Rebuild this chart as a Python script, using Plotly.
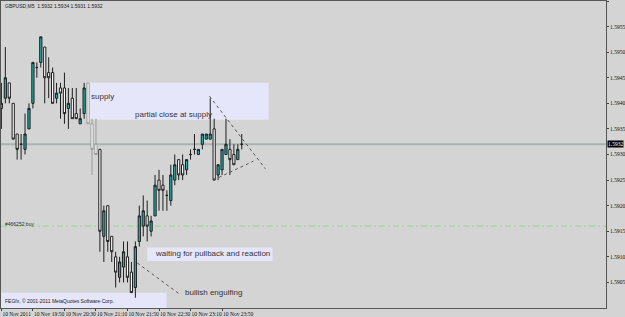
import plotly.graph_objects as go

# ---------------- data ----------------
bar_index = list(range(62))
opens = [1.5939, 1.5941, 1.5944, 1.5940, 1.5934, 1.5932, 1.5931, 1.5935, 1.5940, 1.5947,
         1.5948, 1.5951, 1.5946, 1.5946, 1.5941, 1.5943, 1.5943, 1.5939, 1.5941, 1.5938,
         1.5936, 1.5938, 1.5944, 1.5936, 1.5932, 1.5931, 1.5914, 1.5920, 1.5914, 1.5910,
         1.5906, 1.5908, 1.5910, 1.5907, 1.5904, 1.5913, 1.5916, 1.5918, 1.5915, 1.5918,
         1.5925, 1.5924, 1.5922, 1.5921, 1.5925, 1.5929, 1.5928, 1.5927, 1.5930, 1.5931,
         1.5930, 1.5932, 1.5933, 1.5933, 1.5935, 1.5926, 1.5927, 1.5930, 1.5931, 1.5930,
         1.5929, 1.5932]
highs = [1.5944, 1.5951, 1.5944, 1.5940, 1.5934, 1.5934, 1.5938, 1.5940, 1.5948, 1.5948,
         1.5953, 1.5951, 1.5949, 1.5947, 1.5944, 1.5944, 1.5946, 1.5943, 1.5943, 1.5943,
         1.5939, 1.5944, 1.5944, 1.5937, 1.5937, 1.5931, 1.5920, 1.5920, 1.5914, 1.5911,
         1.5910, 1.5913, 1.5913, 1.5909, 1.5913, 1.5920, 1.5922, 1.5921, 1.5918, 1.5926,
         1.5927, 1.5926, 1.5923, 1.5928, 1.5930, 1.5929, 1.5930, 1.5929, 1.5931, 1.5934,
         1.5931, 1.5934, 1.5934, 1.5941, 1.5937, 1.5928, 1.5931, 1.5937, 1.5933, 1.5932,
         1.5932, 1.5934]
lows = [1.5935, 1.5940, 1.5940, 1.5933, 1.5929, 1.5929, 1.5930, 1.5935, 1.5939, 1.5945,
        1.5947, 1.5940, 1.5941, 1.5940, 1.5940, 1.5937, 1.5936, 1.5935, 1.5937, 1.5937,
        1.5936, 1.5937, 1.5936, 1.5926, 1.5930, 1.5911, 1.5909, 1.5911, 1.5909, 1.5904,
        1.5905, 1.5905, 1.5905, 1.5903, 1.5902, 1.5912, 1.5914, 1.5913, 1.5914, 1.5918,
        1.5919, 1.5919, 1.5919, 1.5920, 1.5924, 1.5925, 1.5925, 1.5926, 1.5929, 1.5930,
        1.5930, 1.5931, 1.5933, 1.5933, 1.5925, 1.5925, 1.5926, 1.5930, 1.5926, 1.5928,
        1.5929, 1.5931]
closes = [1.5940, 1.5945, 1.5941, 1.5933, 1.5931, 1.5932, 1.5934, 1.5939, 1.5948, 1.5947,
          1.5953, 1.5945, 1.5945, 1.5940, 1.5942, 1.5942, 1.5938, 1.5940, 1.5937, 1.5937,
          1.5937, 1.5943, 1.5936, 1.5931, 1.5930, 1.5915, 1.5919, 1.5913, 1.5911, 1.5907,
          1.5909, 1.5911, 1.5906, 1.5903, 1.5912, 1.5918, 1.5919, 1.5916, 1.5917, 1.5924,
          1.5923, 1.5923, 1.5922, 1.5926, 1.5928, 1.5926, 1.5926, 1.5929, 1.5930, 1.5931,
          1.5931, 1.5934, 1.5934, 1.5934, 1.5925, 1.5928, 1.5931, 1.5932, 1.5929, 1.5928,
          1.5931, 1.5932]
gray_bars = [22, 23, 24]

x_tick_bars = [0, 8, 16, 24, 32, 40, 48, 56]
x_tick_labels = ["10 Nov 2011", "10 Nov 19:50", "10 Nov 20:30", "10 Nov 21:10",
                 "10 Nov 21:50", "10 Nov 22:30", "10 Nov 23:10", "10 Nov 23:50"]
y_ticks = [1.5905, 1.5910, 1.5915, 1.5920, 1.5925, 1.5930, 1.5935, 1.5940,
           1.5945, 1.5950, 1.5955, 1.5960]

bid_price = 1.5932
buy_price = 1.5916
title_text = "GBPUSD,M5  1.5932 1.5934 1.5931 1.5932"

# rectangles (bar / price corners)
rect_x0 = [21.9, 37.0, -1.0]
rect_x1 = [67.8, 68.8, 41.9]
rect_y0 = [1.59368, 1.59092, 1.5900]
rect_y1 = [1.5944, 1.59118, 1.59030]

# free texts
text_labels = ["supply", "partial close at supply", "waiting for pullback and reaction",
               "bullish engulfing"]
text_bar = [22.2, 33.4, 38.5, 46.1]
text_price = [1.59413, 1.59379, 1.59106, 1.59030]
copyright_text = "FEGfx, © 2001-2011 MetaQuotes Software Corp."

# dotted trend lines
trend_x0 = [34.5, 52.8, 53.8]
trend_y0 = [1.59088, 1.59414, 1.59250]
trend_x1 = [45.4, 67.0, 63.96]
trend_y1 = [1.59026, 1.59272, 1.59287]

# ---------------- figure ----------------
BG = "#d4d4d4"
BULL = "#20b2aa"
WICK = "#1e1e1e"

normal = [i for i in bar_index if i not in gray_bars]


def sub(arr, ids):
    return [arr[i] for i in ids]


fig = go.Figure()
fig.add_trace(go.Candlestick(
    x=sub(bar_index, normal), open=sub(opens, normal), high=sub(highs, normal),
    low=sub(lows, normal), close=sub(closes, normal),
    increasing=dict(line=dict(color=WICK, width=1), fillcolor=BULL),
    decreasing=dict(line=dict(color=WICK, width=1), fillcolor="white"),
    hoverinfo="skip", showlegend=False))
fig.add_trace(go.Candlestick(
    x=sub(bar_index, gray_bars), open=sub(opens, gray_bars), high=sub(highs, gray_bars),
    low=sub(lows, gray_bars), close=sub(closes, gray_bars),
    increasing=dict(line=dict(color="#9a9a9a", width=1), fillcolor=BULL),
    decreasing=dict(line=dict(color="#9a9a9a", width=1), fillcolor="white"),
    hoverinfo="skip", showlegend=False))

shapes = []
for x0, x1, y0, y1 in zip(rect_x0, rect_x1, rect_y0, rect_y1):
    shapes.append(dict(type="rect", xref="x", yref="y", x0=x0, x1=x1, y0=y0, y1=y1,
                       fillcolor="#e6e6fa", line=dict(width=0), layer="below"))
shapes.append(dict(type="line", xref="paper", yref="y", x0=0, x1=1, y0=bid_price, y1=bid_price,
                   line=dict(color="#aab3b3", width=2), layer="below"))
shapes.append(dict(type="line", xref="paper", yref="y", x0=0, x1=1, y0=buy_price, y1=buy_price,
                   line=dict(color="#8fdc8f", width=1, dash="6px,3px,2px,3px"), layer="below"))
for x0, y0, x1, y1 in zip(trend_x0, trend_y0, trend_x1, trend_y1):
    shapes.append(dict(type="line", xref="x", yref="y", x0=x0, y0=y0, x1=x1, y1=y1,
                       line=dict(color="#555555", width=1, dash="dot")))

ann = []
TXT = "#33333b"
for t, bx, py in zip(text_labels, text_bar, text_price):
    ann.append(dict(text=t, x=bx, y=py, xref="x", yref="y", xanchor="left", yanchor="middle",
                    showarrow=False, font=dict(family="Liberation Sans", size=8, color=TXT)))
ann.append(dict(text=copyright_text, x=0.3, y=1.59014, xref="x", yref="y", xanchor="left",
                yanchor="middle", showarrow=False,
                font=dict(family="Liberation Sans", size=5, color="#202020")))
ann.append(dict(text=title_text, x=0.004, y=0.985, xref="paper", yref="paper", xanchor="left",
                yanchor="middle", showarrow=False,
                font=dict(family="Liberation Sans", size=5, color="#202020")))
ann.append(dict(text="#466252 buy", x=0.004, y=buy_price, xref="paper", yref="y", xanchor="left",
                yanchor="middle", yshift=2, showarrow=False,
                font=dict(family="Liberation Sans", size=5, color="#303030")))
ann.append(dict(text="1.5932", x=1, y=bid_price, xref="paper", yref="y", xanchor="left",
                yanchor="middle", xshift=1, showarrow=False, bgcolor="black", borderpad=0,
                font=dict(family="Liberation Serif", size=5.5, color="white")))

fig.update_layout(
    width=625, height=317,
    margin=dict(l=1, r=19, t=1, b=9, autoexpand=False),
    paper_bgcolor=BG, plot_bgcolor=BG,
    showlegend=False, boxgap=0.2,
    shapes=shapes, annotations=ann,
    xaxis=dict(range=[-0.1, 153.45], rangeslider=dict(visible=False),
               tickvals=x_tick_bars, ticktext=x_tick_labels, tickangle=0,
               ticks="outside", ticklen=2, tickcolor="#404040",
               ticklabelposition="outside right", automargin=False,
               tickfont=dict(family="Liberation Serif", size=5.5, color="#101010"),
               showgrid=False, zeroline=False, showline=True, mirror=True,
               linecolor="#555555", linewidth=1),
    yaxis=dict(range=[1.5900, 1.5960], side="right", tickvals=y_ticks, tickformat=".4f",
               ticks="outside", ticklen=2, tickcolor="#404040", automargin=False,
               tickfont=dict(family="Liberation Serif", size=5.5, color="#101010"),
               showgrid=False, zeroline=False, showline=True, mirror=True,
               linecolor="#555555", linewidth=1),
)

fig.write_html("out.html")
